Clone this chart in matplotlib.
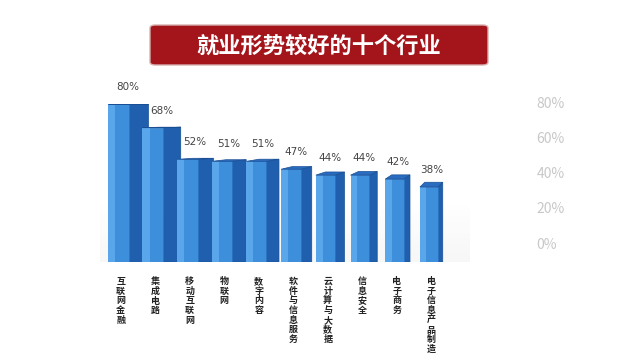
import numpy as np
import matplotlib
matplotlib.use('Agg')
import matplotlib.pyplot as plt
from matplotlib.patches import Polygon, FancyBboxPatch

plt.rcParams['font.family'] = ['Noto Sans CJK SC', 'DejaVu Sans']

# data
industries = ['互联网金融', '集成电路', '移动互联网', '物联网', '数字内容',
              '软件与信息服务', '云计算与大数据', '信息安全', '电子商务', '电子信息产品制造']
shares = [80, 68, 52, 51, 51, 47, 44, 44, 42, 38]
right_ticks = [0, 20, 40, 60, 80]
title = '就业形势较好的十个行业'

fig = plt.figure(figsize=(6.4, 3.6), dpi=100)
fig.patch.set_facecolor('white')

# title banner
fig.patches.append(FancyBboxPatch((150 / 640, 1 - 65 / 360), 338 / 640, 40 / 360,
                                  boxstyle='round,pad=0,rounding_size=0.008',
                                  transform=fig.transFigure, facecolor='#a3141b',
                                  edgecolor='#d8b0b0', linewidth=1.0))
fig.text(319 / 640, 1 - 46 / 360, title, ha='center', va='center',
         color='white', fontsize=16, fontweight='bold')

ax = fig.add_axes([100 / 640, 0.272, 370 / 640, 0.494])
ax.set_xlim(-0.58, 10.14)
ax.set_ylim(0, 90)
ax.axis('off')

# faint floor shadow, fading upward
grad = np.linspace(0, 1, 50).reshape(-1, 1)
ax.imshow(grad, extent=(-0.58, 10.14, 0, 30), origin='upper', aspect='auto',
          cmap='Greys', vmin=0, vmax=12, alpha=0.8, zorder=0)

n = len(shares)
front_w = np.linspace(0.62, 0.52, n)
depth = np.linspace(0.55, 0.14, n)
rise = np.linspace(0.0, 2.4, n)
for i, v in enumerate(shares):
    x0 = i - front_w[i] / 2 - 0.05
    # front face
    ax.bar(x0, v, width=front_w[i], align='edge', color='#3d8fdb',
           edgecolor='#2a72c0', linewidth=0.5, zorder=3)
    ax.bar(x0, v, width=front_w[i] * 0.35, align='edge', color='#5aa6ea',
           linewidth=0, zorder=3)
    x1 = x0 + front_w[i]
    # side face
    ax.add_patch(Polygon([(x1, 0), (x1 + depth[i], 0), (x1 + depth[i], v + rise[i]),
                          (x1, v)], closed=True, facecolor='#1f5fae',
                         edgecolor='#1a4f94', linewidth=0.5, zorder=2))
    # top face
    ax.add_patch(Polygon([(x0, v), (x1, v), (x1 + depth[i], v + rise[i]),
                          (x0 + depth[i], v + rise[i])], closed=True,
                         facecolor='#2a6cbf', edgecolor='#1a4f94', linewidth=0.5, zorder=4))
    ax.text(x0 + (front_w[i] + depth[i]) / 2, v + 6, f'{v}%', ha='center', va='bottom',
            fontsize=7.5, color='#444444', family=['DejaVu Sans'])
    ax.text(i + 0.02, -7.5, '\n'.join(industries[i]), ha='center', va='top',
            fontsize=6.5, fontweight='bold', color='#222222', linespacing=1.1)

# right-hand scale
ax2 = ax.twinx()
ax2.set_ylim(-10.8, 90.1)
ax2.set_yticks(right_ticks)
ax2.set_yticklabels([f'{t}%' for t in right_ticks])
ax2.tick_params(axis='y', length=0, pad=48, labelsize=10, labelcolor='#c8c8c8')
for s in ax2.spines.values():
    s.set_visible(False)
ax2.set_xticks([])

fig.savefig('out.png', dpi=100, facecolor='white')
